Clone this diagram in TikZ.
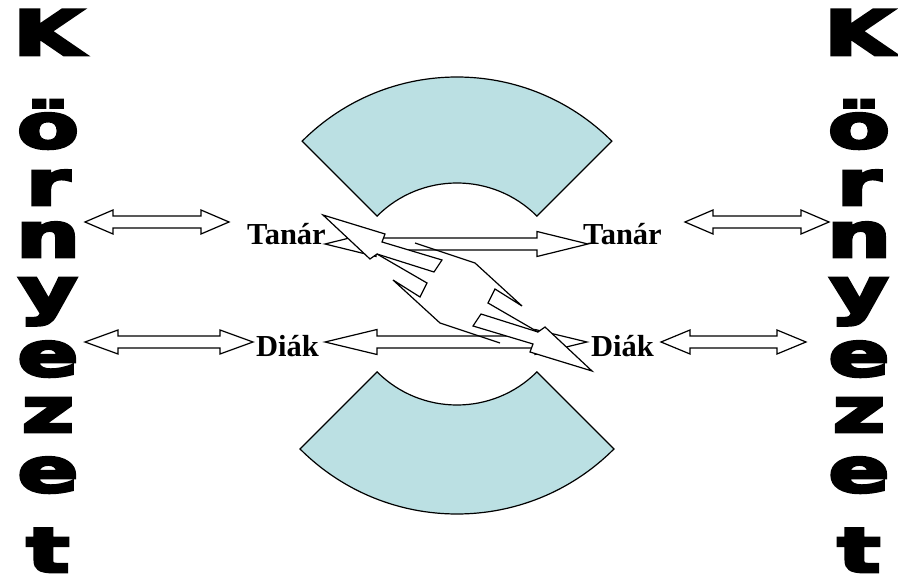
\documentclass[tikz,border=0pt]{standalone}
\usepackage{fontspec}
\usepackage{graphicx}
\setmainfont{Liberation Serif}
\newfontfamily\heavyfont{DejaVu Sans}[UprightFont={* Bold},FakeBold=4.5]
\definecolor{sectorblue}{RGB}{187,224,227}
\tikzset{
  outl/.style={draw=black, line width=1.2pt, line join=miter},
  blockarr/.style={outl, fill=white},
  sector/.style={outl, fill=sectorblue},
  word/.style={font=\bfseries\fontsize{30.5}{31}\selectfont, inner sep=0pt, anchor=base west},
  letter/.style={font=\heavyfont\fontsize{62}{62}\selectfont, inner sep=0pt, anchor=base},
}
\newcommand\dblarr[6]{% x1,x2,y,headlen,headhalf,shafthalf
  \filldraw[blockarr] (#1,#3) -- ({#1+#4},{#3-#5}) -- ({#1+#4},{#3-#6}) -- ({#2-#4},{#3-#6}) -- ({#2-#4},{#3-#5}) -- (#2,#3) -- ({#2-#4},{#3+#5}) -- ({#2-#4},{#3+#6}) -- ({#1+#4},{#3+#6}) -- ({#1+#4},{#3+#5}) -- cycle;}
\newcommand\vletters[1]{%
  \foreach \ch/\yb [count=\i from 0] in {K/55,ö/148,r/205,n/257,y/312,e/376,z/432,e/492,t/572}{
    \node[letter] (v#1\i) at (#1,\yb) {\scalebox{1.45}[1]{\ch}};
  }}
\begin{document}
\begin{tikzpicture}[x=1pt,y=-1pt]
\useasboundingbox (0,0) rectangle (898,580);
\fill[white] (0,0) rectangle (898,580);
% sectors
\filldraw[sector] ([shift={(457,296)}]225:219) arc[start angle=225,end angle=315,radius=219]
  -- ([shift={(457,296)}]315:113) arc[start angle=315,end angle=225,radius=113] -- cycle;
\filldraw[sector] ([shift={(457,292)}]45:222) arc[start angle=45,end angle=135,radius=222]
  -- ([shift={(457,292)}]135:113) arc[start angle=135,end angle=45,radius=113] -- cycle;
% outer double arrows
\dblarr{85}{229}{222}{28}{12}{6}
\dblarr{85}{253}{342}{33}{12}{6}
\dblarr{685}{829}{222}{28}{12}{6}
\dblarr{661}{806}{342}{29}{12}{6}
% middle horizontal double arrows
\dblarr{325}{588}{244}{51}{12.5}{6}
\dblarr{325}{587}{342}{52}{12.5}{6}
% diagonal arrows
\filldraw[blockarr] (323,215) -- (385,234) -- (382,242) -- (442,260) -- (434,272) -- (377,254) -- (370,259) -- cycle;
\draw[outl] (377,254) -- (427,283) -- (420,297) -- (393,280) -- (440,323) -- (500,343);
\filldraw[blockarr] (592,371) -- (530,352) -- (533,344) -- (473,326) -- (481,314) -- (538,332) -- (545,327) -- cycle;
\draw[outl] (538,332) -- (488,303) -- (495,289) -- (522,306) -- (475,263) -- (415,243);
% words
\node[word] (t1) at (247,245) {Tanár};
\node[word] (t2) at (583,245) {Tanár};
\node[word] (d1) at (256,357) {Diák};
\node[word] (d2) at (591,357) {Diák};
% vertical letters
\vletters{48}
\vletters{859}
\end{tikzpicture}
\end{document}
